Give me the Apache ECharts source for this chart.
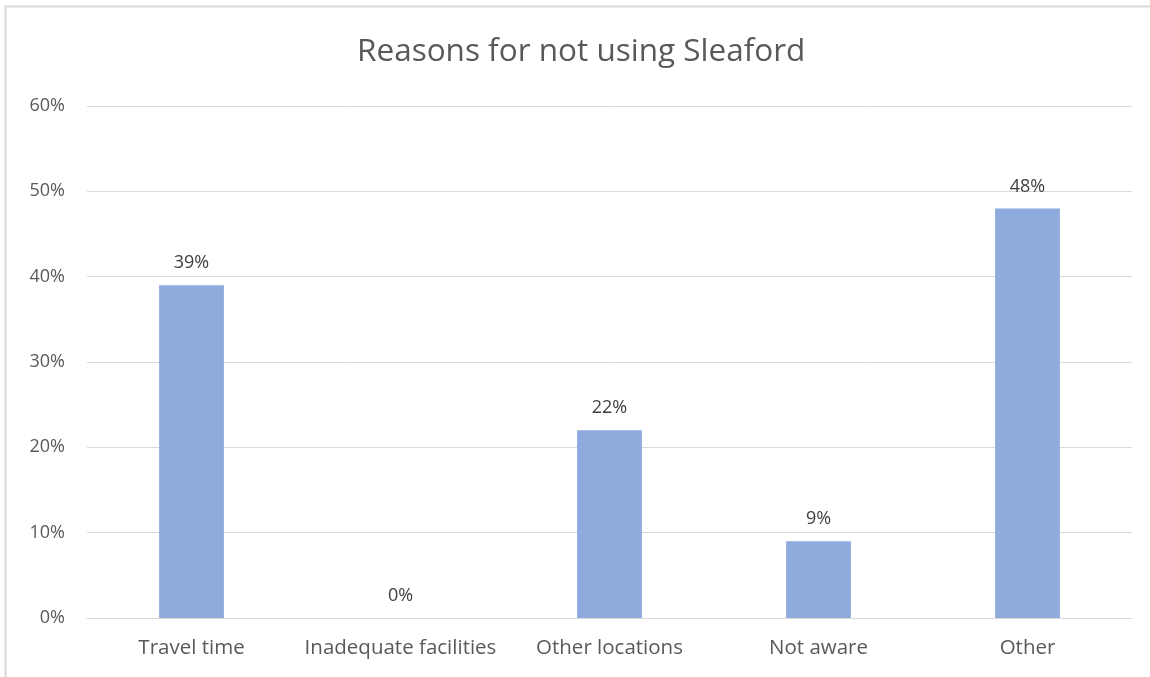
<!DOCTYPE html>
<html><head><meta charset="utf-8">
<script src="https://cdn.jsdelivr.net/npm/echarts@6/dist/echarts.min.js"></script>
<style>html,body{margin:0;padding:0;background:#fff}#c{width:1150px;height:677px}</style>
</head><body><div id="c"></div>
<script>
const categories = ["Travel time", "Inadequate facilities", "Other locations", "Not aware", "Other"];
const values = [39, 0, 22, 9, 48];
const yTicks = [0, 10, 20, 30, 40, 50, 60];
const FONT = "'Open Sans', sans-serif";
const chart = echarts.init(document.getElementById('c'));
chart.setOption({
  animation: false,
  backgroundColor: '#fff',
  graphic: [{type: 'rect', shape: {x: 5.5, y: 6.5, width: 1200, height: 800}, style: {fill: 'none', stroke: '#d9d9d9', lineWidth: 2}}],
  title: {text: 'Reasons for not using Sleaford', left: 352, top: 31,
    textStyle: {fontFamily: FONT, fontSize: 31.5, fontWeight: 'normal', color: '#595959'}},
  grid: {left: 87, right: 18, top: 106, bottom: 59},
  xAxis: {type: 'category', data: categories,
    axisLine: {lineStyle: {color: '#d9d9d9', width: 1}}, axisTick: {show: false},
    axisLabel: {interval: 0, fontFamily: FONT, fontSize: 20.5, color: '#595959', margin: 20}},
  yAxis: {type: 'value', min: yTicks[0], max: yTicks[yTicks.length - 1], interval: 10,
    axisLine: {show: false}, axisTick: {show: false},
    splitLine: {lineStyle: {color: '#d9d9d9', width: 1}},
    axisLabel: {fontFamily: FONT, fontSize: 18, color: '#595959', margin: 22, formatter: v => v + '%'}},
  series: [{type: 'bar', data: values, barWidth: '31%', itemStyle: {color: '#8FAADC'},
    label: {show: true, position: 'top', distance: 13, fontFamily: FONT, fontSize: 18, color: '#404040', formatter: p => p.value + '%'}}]
});
</script></body></html>
